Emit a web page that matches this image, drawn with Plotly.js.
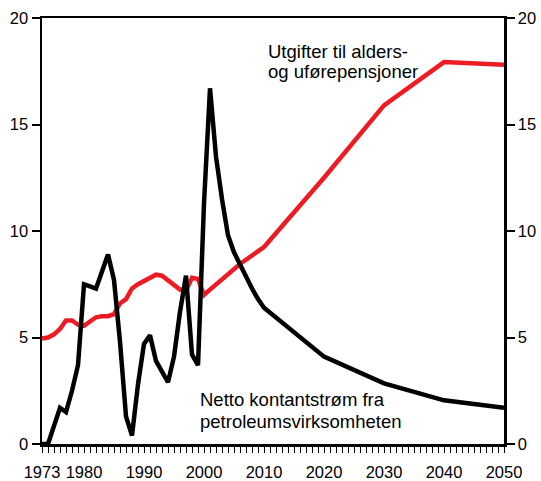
<!DOCTYPE html>
<html>
<head>
<meta charset="utf-8">
<script src="https://cdn.plot.ly/plotly-3.0.1.min.js"></script>
<style>html,body{margin:0;padding:0;background:#fff;}#chart{width:541px;height:481px;}</style>
</head>
<body>
<div id="chart"></div>
<script>
// Netto kontantstrøm fra petroleumsvirksomheten
const oilYears = [1973,1974,1975,1976,1977,1978,1979,1980,1981,1982,1983,1984,1985,1986,1987,1988,1989,1990,1991,1992,1993,1994,1995,1996,1997,1998,1999,2000,2001,2002,2003,2004,2005,2006,2007,2008,2009,2010,2020,2030,2040,2050];
const oilValues = [0,0,0.85,1.7,1.5,2.5,3.7,7.5,7.4,7.3,8.1,8.9,7.7,4.8,1.3,0.4,2.8,4.7,5.1,3.9,3.4,2.9,4.1,6.2,7.9,4.2,3.7,11.3,16.7,13.5,11.5,9.8,9.0,8.4,7.9,7.3,6.8,6.4,4.1,2.85,2.05,1.7];

// Utgifter til alders- og uførepensjoner
const pensionYears = [1973,1974,1975,1976,1977,1978,1979,1980,1981,1982,1983,1984,1985,1986,1987,1988,1989,1990,1991,1992,1993,1994,1995,1996,1997,1998,1999,2000,2001,2002,2003,2004,2005,2006,2007,2008,2009,2010,2020,2030,2040,2050];
const pensionValues = [4.95,5.0,5.15,5.4,5.8,5.8,5.6,5.55,5.75,5.95,6.0,6.0,6.1,6.6,6.8,7.3,7.5,7.65,7.8,7.95,7.9,7.7,7.45,7.25,7.2,7.8,7.75,7.0,7.25,7.5,7.75,8.0,8.25,8.45,8.65,8.85,9.05,9.25,12.5,15.9,17.93,17.8];

const xTickVals = [1973,1980,1990,2000,2010,2020,2030,2040,2050];
const xTickText = ["1973","1980","1990","2000","2010","2020","2030","2040","2050"];
const yTickVals = [0,5,10,15,20];

const oilLabelLines = ["Netto kontantstrøm fra", "petroleumsvirksomheten"];
const pensionLabelLines = ["Utgifter til alders-", "og uførepensjoner"];

const tickFont = {family: "Liberation Sans, Arial, sans-serif", size: 16.5, color: "#000"};
const labelFont = {family: "Liberation Sans, Arial, sans-serif", size: 18.5, color: "#000"};

const traces = [
  {x: pensionYears, y: pensionValues, type: "scatter", mode: "lines",
   line: {color: "#ed1c24", width: 4.5}, hoverinfo: "skip"},
  {x: oilYears, y: oilValues, type: "scatter", mode: "lines",
   line: {color: "#000000", width: 4.5}, hoverinfo: "skip"},
  {x: [1973], y: [0], yaxis: "y2", type: "scatter", mode: "markers",
   marker: {opacity: 0}, hoverinfo: "skip", showlegend: false}
];

function lineAnnotations(lines, x, yFirst, yStep) {
  return lines.map((t, i) => ({
    text: t, xref: "x", yref: "y", x: x, y: yFirst - i * yStep,
    xanchor: "left", yanchor: "middle", align: "left", showarrow: false, font: labelFont
  }));
}

const layout = {
  width: 541, height: 481,
  margin: {l: 42, r: 37, t: 18, b: 37, pad: 0},
  paper_bgcolor: "#fff", plot_bgcolor: "#fff",
  showlegend: false,
  font: tickFont,
  xaxis: {
    range: [1973, 2050], showgrid: false, zeroline: false,
    showline: true, linecolor: "#000", linewidth: 2.5, mirror: true,
    tickmode: "array", tickvals: xTickVals, ticktext: xTickText,
    ticks: "outside", ticklen: 6, tickwidth: 1, tickcolor: "#000",
    ticklabelstandoff: 6,
    minor: {dtick: 1, ticks: "outside", ticklen: 6, tickwidth: 1, tickcolor: "#000", showgrid: false},
    tickfont: tickFont
  },
  yaxis: {
    range: [0, 20], showgrid: false, zeroline: false,
    showline: true, linecolor: "#000", linewidth: 2.5,
    tickmode: "array", tickvals: yTickVals,
    ticks: "outside", ticklen: 8, tickwidth: 2, tickcolor: "#000",
    tickfont: tickFont
  },
  yaxis2: {
    range: [0, 20], overlaying: "y", side: "right", showgrid: false, zeroline: false,
    showline: true, linecolor: "#000", linewidth: 2.5,
    tickmode: "array", tickvals: yTickVals,
    ticks: "outside", ticklen: 8, tickwidth: 2, tickcolor: "#000",
    tickfont: tickFont
  },
  annotations: [].concat(
    lineAnnotations(pensionLabelLines, 2010.33, 18.44, 0.97),
    lineAnnotations(oilLabelLines, 1999.0, 2.10, 1.03)
  )
};

Plotly.newPlot("chart", traces, layout, {staticPlot: true, displayModeBar: false});
</script>
</body>
</html>
